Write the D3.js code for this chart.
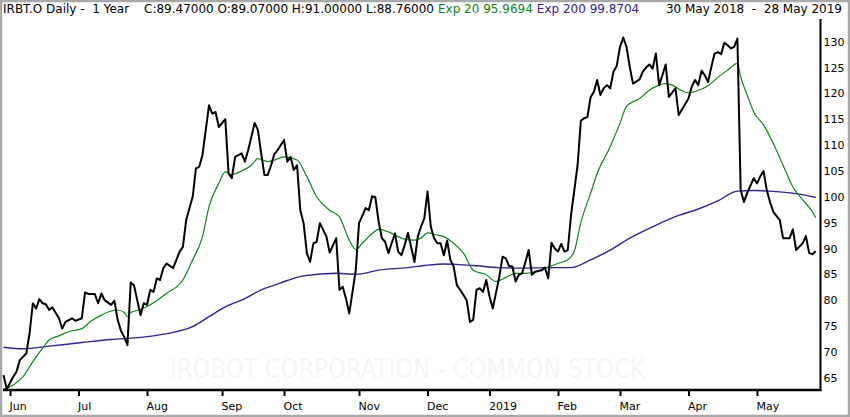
<!DOCTYPE html>
<html>
<head>
<meta charset="utf-8">
<script src="https://cdn.jsdelivr.net/npm/d3@7"></script>
<style>
  body { margin: 0; background: #fff; }
  svg { display: block; }
</style>
</head>
<body>
<div id="chart"></div>
<script>
// IRBT.O daily, 30 May 2018 - 28 May 2019
// x is the trading session number counted from 30 May 2018 (= 0)

var monthSessions = [2, 23, 44, 67, 86, 109, 130, 149, 170, 189, 210, 231];
var monthLabels = ["Jun", "Jul", "Aug", "Sep", "Oct", "Nov", "Dec", "2019", "Feb", "Mar", "Apr", "May"];
var priceTicks = [65, 70, 75, 80, 85, 90, 95, 100, 105, 110, 115, 120, 125, 130];

var ohlcLabels = ["C", "O", "H", "L"];
var ohlcValues = [89.47, 89.07, 91.00, 88.76];
var emaLabels = ["Exp 20", "Exp 200"];
var emaLast = [95.9694, 99.8704];

var priceSession = [0, 1, 3, 4, 5, 7, 8, 9, 10, 11, 12, 13, 14, 15, 17, 18, 19, 21, 22, 24,
  25, 26, 28, 29, 30, 31, 33, 34, 35, 36, 37, 38, 39, 40, 41, 42, 43, 44, 45, 46,
  47, 48, 49, 50, 52, 53, 54, 55, 56, 58, 59, 60, 61, 62, 63, 64, 65, 66, 68, 69,
  70, 71, 73, 74, 75, 76, 77, 78, 79, 80, 81, 82, 83, 84, 86, 87, 88, 89, 90, 91,
  92, 93, 94, 95, 96, 97, 99, 100, 102, 103, 104, 105, 106, 108, 109, 110, 111, 112, 113, 114,
  115, 116, 117, 118, 119, 120, 121, 122, 123, 124, 126, 127, 128, 129, 130, 131, 132, 133, 134, 135,
  136, 137, 138, 139, 140, 142, 143, 144, 145, 146, 147, 148, 149, 150, 152, 153, 154, 155, 156, 157,
  158, 159, 160, 161, 162, 163, 165, 166, 167, 168, 169, 170, 171, 172, 173, 174, 175, 176, 177, 178,
  179, 180, 181, 182, 183, 184, 185, 186, 187, 188, 189, 190, 191, 192, 193, 195, 196, 197, 198, 199,
  200, 201, 202, 203, 204, 206, 207, 208, 210, 211, 212, 213, 214, 215, 216, 217, 218, 219, 220, 221,
  222, 223, 224, 225, 226, 227, 228, 230, 231, 232, 233, 234, 235, 236, 238, 239, 241, 242, 243, 245,
  246, 247, 248, 249];
var priceClose = [65.5, 62.8, 65.2, 66.2, 68.4, 69.7, 73.6, 79.4, 78.4, 80.2, 79.4, 79.2, 78.1, 78.6, 76.5, 74.5, 75.8, 76.5, 76.0, 76.5,
  81.5, 81.2, 81.2, 79.4, 81.3, 80.0, 79.1, 79.9, 76.2, 74.1, 72.9, 71.3, 83.4, 82.9, 80.0, 77.1, 79.4, 79.1, 82.0, 81.6,
  84.2, 83.9, 86.2, 87.1, 86.2, 87.8, 89.4, 90.3, 95.5, 100.0, 105.5, 105.8, 108.1, 112.9, 117.7, 116.1, 116.4, 113.5, 115.0, 104.5,
  103.6, 107.7, 108.4, 106.8, 109.0, 111.6, 114.3, 112.9, 108.4, 104.2, 104.2, 106.0, 108.2, 109.0, 111.0, 106.8, 107.7, 105.2, 106.1, 97.4,
  94.9, 89.1, 87.4, 91.0, 91.3, 94.9, 92.3, 89.2, 92.0, 82.0, 82.6, 80.3, 77.4, 85.8, 94.9, 96.3, 97.8, 97.4, 100.1, 99.9,
  95.2, 92.0, 91.3, 89.1, 91.0, 92.9, 89.4, 88.7, 90.7, 93.0, 87.4, 92.3, 94.2, 95.8, 101.0, 94.2, 92.0, 91.0, 91.0, 88.7,
  91.5, 87.8, 86.5, 82.9, 82.0, 80.0, 75.8, 76.2, 82.0, 82.3, 81.6, 83.9, 80.7, 78.4, 84.5, 88.4, 88.1, 86.6, 86.5, 83.6,
  84.9, 85.2, 87.4, 89.7, 84.9, 85.5, 85.8, 86.3, 84.2, 91.1, 90.0, 89.4, 90.9, 89.4, 89.7, 96.5, 101.3, 106.1, 114.7, 115.2,
  115.4, 119.3, 120.3, 122.6, 119.7, 121.0, 121.6, 121.0, 124.2, 125.3, 129.0, 130.8, 129.0, 125.1, 121.9, 122.7, 124.2, 125.0, 125.6, 124.8,
  127.7, 121.6, 123.5, 125.6, 119.3, 121.0, 115.8, 116.9, 119.0, 121.3, 122.6, 121.6, 124.4, 123.5, 122.2, 125.1, 127.7, 128.0, 127.6, 129.8,
  129.3, 128.7, 129.0, 130.6, 101.3, 99.0, 100.7, 103.6, 102.6, 103.9, 105.0, 101.3, 99.0, 97.1, 95.5, 92.0, 92.0, 93.7, 89.7, 91.0,
  92.4, 89.1, 88.9, 89.47];

var ema20Session = [0, 3, 6, 9, 12, 14, 17, 20, 24, 27, 30, 33, 35, 37, 38, 39, 42, 45, 50, 55,
  58, 61, 63, 66, 68, 70, 73, 76, 78, 81, 83, 86, 90, 93, 96, 100, 103, 106, 108, 110,
  113, 115, 118, 121, 123, 126, 128, 130, 133, 135, 138, 141, 144, 148, 151, 154, 157, 160, 163, 166,
  170, 173, 175, 177, 180, 182, 186, 189, 191, 195, 198, 201, 203, 205, 208, 210, 213, 216, 219, 222,
  225, 226, 228, 230, 233, 236, 239, 242, 245, 248, 249];
var ema20Value = [62.8, 63.6, 65.2, 68.1, 70.7, 72.3, 73.1, 73.9, 74.5, 76.0, 77.1, 77.9, 78.1, 77.6, 76.8, 77.6, 78.2, 79.1, 81.3, 83.9,
  87.8, 92.3, 98.1, 102.6, 104.8, 104.3, 105.0, 106.1, 107.4, 106.8, 107.1, 107.7, 107.1, 103.9, 100.0, 97.4, 96.1, 91.6, 89.8, 91.0,
  92.9, 93.7, 93.2, 92.3, 91.8, 91.6, 92.0, 93.0, 92.6, 92.3, 91.0, 89.1, 85.8, 84.9, 83.6, 84.4, 85.2, 85.2, 85.5, 86.2,
  87.1, 87.8, 89.5, 95.0, 100.7, 104.5, 109.7, 114.2, 117.5, 119.0, 120.6, 121.6, 121.9, 121.6, 120.5, 120.1, 120.6, 121.5, 123.1, 124.5,
  125.8, 123.2, 119.7, 116.4, 113.9, 110.3, 106.1, 101.9, 99.4, 97.1, 95.97];

var ema200Session = [0, 6, 14, 24, 33, 42, 53, 58, 63, 68, 74, 79, 83, 87, 92, 102, 108, 115, 124, 129,
  135, 144, 152, 159, 166, 174, 180, 186, 192, 199, 207, 212, 219, 225, 230, 235, 242, 249];
var ema200Value = [70.9, 70.6, 71.1, 71.8, 72.4, 72.8, 73.9, 74.9, 76.8, 78.7, 80.3, 82.0, 82.9, 83.8, 84.7, 85.2, 85.0, 85.8, 86.3, 86.7,
  87.0, 86.7, 86.3, 86.2, 86.3, 86.3, 87.8, 89.7, 92.0, 94.2, 96.4, 97.4, 99.2, 101.1, 101.2, 101.1, 100.7, 99.87];

var width = 850;
var height = 417;
var font = "DejaVu Sans, Verdana, sans-serif";
var green = "#13821a";
var indigo = "#34208f";

var axisX = 820.5;   // right price axis
var axisY = 390;     // bottom time axis

var x = d3.scaleLinear().domain([0, 249]).range([3.5, 815.7]);
var y = d3.scaleLinear().domain([65, 130]).range([377.7, 41.7]);

var svg = d3.select("#chart")
  .append("svg")
  .attr("width", width)
  .attr("height", height)
  .attr("font-family", font);

svg.append("rect")
  .attr("width", width).attr("height", height)
  .attr("fill", "#fff");

// faint watermark
svg.append("text")
  .attr("x", 170).attr("y", 378)
  .attr("font-size", 26)
  .attr("textLength", 475)
  .attr("lengthAdjust", "spacingAndGlyphs")
  .attr("fill", "#f5f5f5")
  .text("IROBOT CORPORATION - COMMON STOCK");

// header, laid out left to right
var header = svg.append("g").attr("font-size", 12);
var nb = "\u00a0";

header.append("text").attr("x", 3).attr("y", 13).attr("fill", "#000")
  .text("IRBT.O Daily -" + nb + nb + "1 Year");
var ohlc = header.append("text").attr("x", 144).attr("y", 13).attr("fill", "#000")
  .text(ohlcLabels.map((l, i) => l + ":" + ohlcValues[i].toFixed(5)).join(" "));
var nextX = 144 + ohlc.node().getComputedTextLength() + 4;
var e20 = header.append("text").attr("x", nextX).attr("y", 13).attr("fill", green)
  .text(emaLabels[0] + " " + emaLast[0]);
nextX += e20.node().getComputedTextLength() + 4;
header.append("text").attr("x", nextX).attr("y", 13).attr("fill", indigo)
  .text(emaLabels[1] + " " + emaLast[1]);
header.append("text").attr("x", 842).attr("y", 13).attr("fill", "#000")
  .attr("text-anchor", "end")
  .text("30 May 2018" + nb + nb + "-" + nb + nb + "28 May 2019");

// lines
var ema200Line = d3.line()
  .x((d, i) => x(ema200Session[i]))
  .y(d => y(d))
  .curve(d3.curveMonotoneX);

var ema20Line = d3.line()
  .x((d, i) => x(ema20Session[i]))
  .y(d => y(d))
  .curve(d3.curveMonotoneX);

var priceLine = d3.line()
  .x((d, i) => x(priceSession[i]))
  .y(d => y(d));

svg.append("path")
  .attr("d", ema200Line(ema200Value))
  .attr("fill", "none")
  .attr("stroke", indigo)
  .attr("stroke-width", 1.4);

svg.append("path")
  .attr("d", ema20Line(ema20Value))
  .attr("fill", "none")
  .attr("stroke", green)
  .attr("stroke-width", 1.2);

svg.append("path")
  .attr("d", priceLine(priceClose))
  .attr("fill", "none")
  .attr("stroke", "#000")
  .attr("stroke-width", 2)
  .attr("stroke-linejoin", "round");

// bottom axis
var xAxis = d3.axisBottom(x)
  .tickValues(monthSessions)
  .tickFormat((d, i) => monthLabels[i])
  .tickSize(6)
  .tickSizeOuter(0);

var gx = svg.append("g")
  .attr("transform", `translate(0,${axisY})`)
  .call(xAxis);
gx.select(".domain").remove();
gx.selectAll(".tick line").attr("stroke", "#000").attr("stroke-width", 2);
gx.selectAll(".tick text")
  .attr("text-anchor", "start")
  .attr("x", -1)
  .attr("y", 12)
  .attr("fill", "#000")
  .attr("font-size", 11)
  .attr("font-family", font);

svg.append("line")
  .attr("x1", 3).attr("x2", axisX + 1)
  .attr("y1", axisY).attr("y2", axisY)
  .attr("stroke", "#000").attr("stroke-width", 2.5);

// right axis
var yAxis = d3.axisRight(y)
  .tickValues(priceTicks)
  .tickSize(0)
  .tickPadding(3);

var gy = svg.append("g")
  .attr("transform", `translate(${axisX},0)`)
  .call(yAxis);
gy.select(".domain").remove();
gy.selectAll(".tick text")
  .attr("fill", "#000")
  .attr("font-size", 11)
  .attr("font-family", font);

svg.append("line")
  .attr("x1", axisX).attr("x2", axisX)
  .attr("y1", 19).attr("y2", axisY + 1)
  .attr("stroke", "#000").attr("stroke-width", 2);

// outer frame
svg.append("rect")
  .attr("x", 1).attr("y", 1)
  .attr("width", width - 2).attr("height", height - 2)
  .attr("fill", "none")
  .attr("stroke", "#a9a9a9")
  .attr("stroke-width", 2.5);
</script>
</body>
</html>
